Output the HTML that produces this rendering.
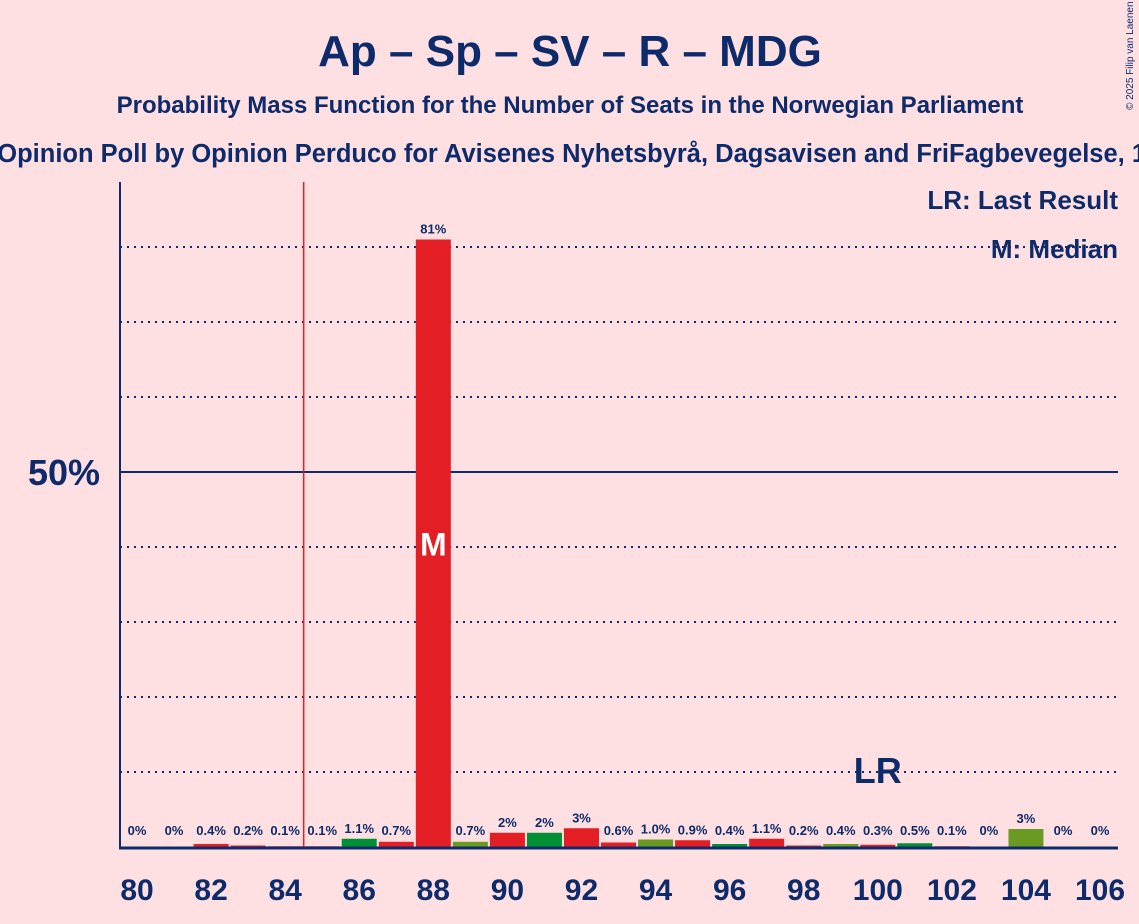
<!DOCTYPE html>
<html><head><meta charset="utf-8"><style>
body{margin:0;background:#ffe0e2;}
svg{display:block;font-family:"Liberation Sans",sans-serif;}
</style></head><body>
<svg id="c" width="1139" height="924" viewBox="0 0 1139 924">
<rect width="1139" height="924" fill="#ffe0e2"/>
<text x="570" y="66" text-anchor="middle" font-size="44" font-weight="bold" fill="#0d2b6b">Ap – Sp – SV – R – MDG</text>
<text x="570" y="113" text-anchor="middle" font-size="24" font-weight="bold" fill="#0d2b6b">Probability Mass Function for the Number of Seats in the Norwegian Parliament</text>
<text x="600" y="162" text-anchor="middle" font-size="25.5" font-weight="bold" fill="#0d2b6b">Opinion Poll by Opinion Perduco for Avisenes Nyhetsbyrå, Dagsavisen and FriFagbevegelse, 14–20</text>
<text x="1133" y="110" font-size="10" fill="#0d2b6b" transform="rotate(-90 1133 110)">© 2025 Filip van Laenen</text>
<g id="grid"></g>
<g id="bars"></g>
<g id="labels"></g>
<text x="1118" y="209" text-anchor="end" font-size="26" font-weight="bold" fill="#0d2b6b">LR: Last Result</text>
<text x="1118" y="258" text-anchor="end" font-size="26" font-weight="bold" fill="#0d2b6b">M: Median</text>
</svg>
<script>
const seats=[80,81,82,83,84,85,86,87,88,89,90,91,92,93,94,95,96,97,98,99,100,101,102,103,104,105,106];
const probs=[0,0,0.4,0.2,0.1,0.1,1.1,0.7,81,0.7,1.9,1.9,2.5,0.6,1.0,0.9,0.4,1.1,0.2,0.4,0.3,0.5,0.1,0,2.4,0,0];
const printed=["0%","0%","0.4%","0.2%","0.1%","0.1%","1.1%","0.7%","81%","0.7%","2%","2%","3%","0.6%","1.0%","0.9%","0.4%","1.1%","0.2%","0.4%","0.3%","0.5%","0.1%","0%","3%","0%","0%"];
const colors=["r","r","r","r","r","r","g","r","r","o","r","g","r","r","o","r","g","r","r","o","r","g","r","r","o","r","r"];
const gridTicks=[10,20,30,40,60,70,80];
const lastResult=84.5, median=88, lrLabelSeat=100;
const NS="http://www.w3.org/2000/svg";
const X0=137, DX=37.04, Y0=847, PY=7.5, BW=35;
const xs=s=>X0+(s-80)*DX, ys=p=>Y0-p*PY;
const pal={r:"#e31e24",g:"#008f35",o:"#6b9a22"};
function mk(t,a,p){const e=document.createElementNS(NS,t);for(const k in a)e.setAttribute(k,a[k]);p.appendChild(e);return e;}
const grid=document.getElementById('grid'),bars=document.getElementById('bars'),labels=document.getElementById('labels');
gridTicks.forEach(t=>{const l=mk('line',{x1:120,x2:1118,y1:ys(t),y2:ys(t),stroke:"#0d2b6b","stroke-width":2,"stroke-dasharray":"2 5"},grid);

});
const l50=mk('line',{x1:120,x2:1118,y1:ys(50),y2:ys(50),stroke:"#0d2b6b","stroke-width":2},grid);


const yl=mk('text',{x:100,y:ys(50)+13,"text-anchor":"end","font-size":36,"font-weight":"bold",fill:"#0d2b6b"},grid);yl.textContent="50%";


const lr=mk('line',{x1:xs(lastResult),x2:xs(lastResult),y1:182,y2:847,stroke:"#e31e24","stroke-width":1.5},grid);


seats.forEach((s,i)=>{
 const h=probs[i]*PY;
 const b=mk('rect',{x:xs(s)-BW/2,y:Y0-h,width:BW,height:h,fill:pal[colors[i]]},bars);
 
 
 const t=mk('text',{x:xs(s),y:Math.min(Y0-h-6,Y0-12),"text-anchor":"middle","font-size":13,"font-weight":"bold",fill:"#0d2b6b"},labels);t.textContent=printed[i];
 
 
 if(s%2===0){const x=mk('text',{x:xs(s),y:900,"text-anchor":"middle","font-size":30,"font-weight":"bold",fill:"#0d2b6b"},labels);x.textContent=s;
 
 }
});
const mi=seats.indexOf(median);
const m=mk('text',{x:xs(median),y:ys(probs[mi]/2)+12,"text-anchor":"middle","font-size":32,"font-weight":"bold",fill:"#fff"},labels);m.textContent="M";


const lrt=mk('text',{x:xs(lrLabelSeat),y:783,"text-anchor":"middle","font-size":36,"font-weight":"bold",fill:"#0d2b6b"},labels);lrt.textContent="LR";


const ya=mk('line',{x1:120,x2:120,y1:182,y2:848,stroke:"#0d2b6b","stroke-width":2},labels);


const xa=mk('line',{x1:119,x2:1118,y1:848,y2:848,stroke:"#0d2b6b","stroke-width":3},labels);


</script>
</body></html>
